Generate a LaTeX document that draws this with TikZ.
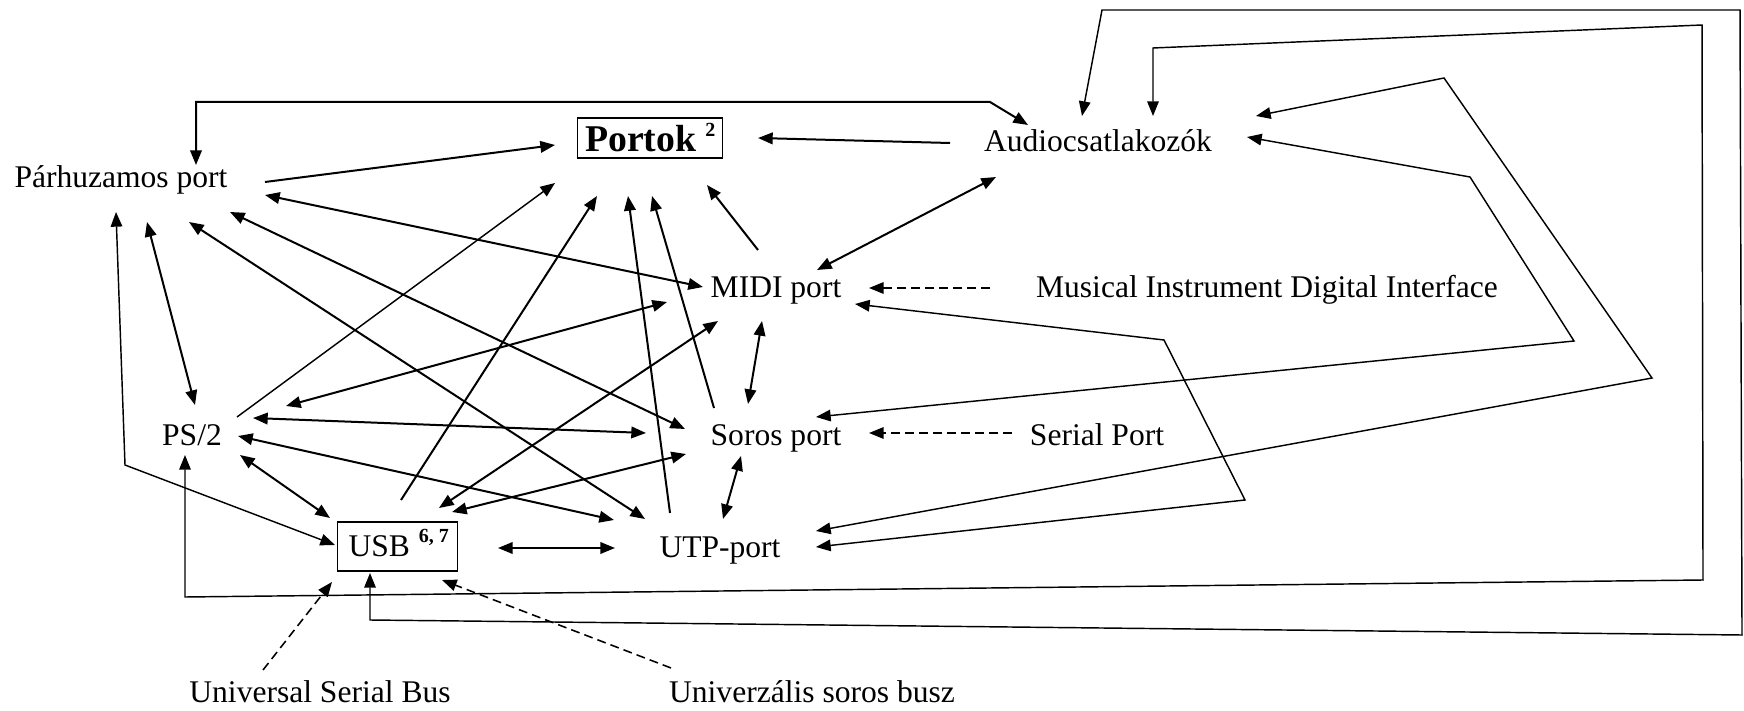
\documentclass[tikz,border=0pt]{standalone}
\usepackage{fontspec}
\setmainfont{Liberation Serif}
\usetikzlibrary{arrows.meta}
\begin{document}
\begin{tikzpicture}[
  x=0.45pt, y=-0.45pt,
  >={Triangle[length=6.6pt,width=5.2pt]},
  lbl/.style={inner sep=0pt, anchor=base, font=\fontsize{14.2}{17}\selectfont},
  frame/.style={draw, line width=0.65pt, inner sep=0pt, anchor=base west},
  wire/.style={line width=0.9pt},
  thinwire/.style={line width=0.65pt},
  hint/.style={line width=0.7pt, dash pattern=on 4pt off 2.3pt}
]
\useasboundingbox (0,0) rectangle (1744,711);

% --- labels ---
\node[frame, minimum width=65.25pt, text height=15.3pt, text depth=2.7pt,
      font=\fontsize{17}{20}\selectfont\bfseries] (por) at (577,152)
      {Portok\hspace{4pt}\raisebox{7pt}{\fontsize{9}{10}\selectfont 2}\hspace{2.25pt}};
\node[lbl] (aud)  at (1098,152) {Audiocsatlakozók};
\node[lbl] (par)  at (121,188)  {Párhuzamos port};
\node[lbl] (midi) at (776,298)  {MIDI port};
\node[lbl] (mus)  at (1267,298) {Musical Instrument Digital Interface};
\node[lbl] (ps)   at (192,446)  {PS/2};
\node[lbl] (sor)  at (776,445)  {Soros port};
\node[lbl] (ser)  at (1097,445) {Serial Port};
\node[frame, minimum width=54pt, text height=15.3pt, text depth=6.75pt,
      font=\fontsize{14.2}{17}\selectfont] (usb) at (337,556)
      {\hspace{0.9pt}USB\hspace{4pt}\raisebox{6pt}{\fontsize{9}{10}\selectfont\bfseries 6, 7}};
\node[lbl] (utp)  at (720,557)  {UTP-port};
\node[lbl] (use)  at (320,702)  {Universal Serial Bus};
\node[lbl] (ush)  at (812,702)  {Univerzális soros busz};

% --- links into the Portok box ---
\draw[wire,->] ([shift={(144,-6)}]par.base) -- ([shift={(-22,-7)}]por.base west);
\draw[thinwire,->] ([shift={(45,-29)}]ps.base) -- ([shift={(-22,31)}]por.base west);
\draw[wire,->] ([shift={(64,-56)}]usb.base west) -- ([shift={(20,44)}]por.base west);
\draw[wire,->] ([shift={(-50,-44)}]utp.base) -- ([shift={(51,44)}]por.base west);
\draw[wire,->] ([shift={(-62,-37)}]sor.base) -- ([shift={(75,44)}]por.base west);
\draw[wire,->] ([shift={(-18,-48)}]midi.base) -- ([shift={(130,33)}]por.base west);
\draw[wire,->] ([shift={(-148,-9)}]aud.base) -- ([shift={(181,-14)}]por.base west);

% --- Párhuzamos port ---
\draw[wire,<->] ([shift={(75,-23)}]par.base) |- (990,102) -- ([shift={(-70,-27)}]aud.base);
\draw[wire,<->] ([shift={(144,7)}]par.base) -- ([shift={(-73,-11)}]midi.base);
\draw[wire,<->] ([shift={(109,24)}]par.base) -- ([shift={(-91,-16)}]sor.base);
\draw[wire,<->] ([shift={(68,34)}]par.base) -- ([shift={(-75,-38)}]utp.base);
\draw[wire,<->] ([shift={(26,34)}]par.base) -- ([shift={(3,-41)}]ps.base);
\draw[thinwire,<->] ([shift={(-5,24)}]par.base) -- (125,465) -- ([shift={(-2,-11)}]usb.base west);

% --- Audiocsatlakozók / MIDI ---
\draw[wire,<->] ([shift={(-102,25)}]aud.base) -- ([shift={(41,-28)}]midi.base);
\draw[hint,->] ([shift={(-277,-10)}]mus.base) -- ([shift={(93,-10)}]midi.base);
\draw[hint,->] ([shift={(-85,-12)}]ser.base) -- ([shift={(93,-12)}]sor.base);
\draw[wire,<->] ([shift={(-14,23)}]midi.base) -- ([shift={(-28,-41)}]sor.base);
\draw[wire,<->] ([shift={(-35,11)}]sor.base) -- ([shift={(3,-38)}]utp.base);
\draw[wire,<->] ([shift={(161,-8)}]usb.base west) -- ([shift={(-105,-9)}]utp.base);

% --- PS/2 ---
\draw[wire,<->] ([shift={(94,-40)}]ps.base) -- ([shift={(-109,4)}]midi.base);
\draw[wire,<->] ([shift={(61,-28)}]ps.base) -- ([shift={(-130,-12)}]sor.base);
\draw[wire,<->] ([shift={(46,-10)}]ps.base) -- ([shift={(-106,-37)}]utp.base);
\draw[wire,<->] ([shift={(48,9)}]ps.base) -- ([shift={(-7,-38)}]usb.base west);

% --- USB ---
\draw[wire,<->] ([shift={(102,-48)}]usb.base west) -- ([shift={(-58,23)}]midi.base);
\draw[wire,<->] ([shift={(115,-44)}]usb.base west) -- ([shift={(-90,9)}]sor.base);

% --- long bent links on the right ---
\draw[thinwire,<->] ([shift={(79,6)}]midi.base) -- (1164,340) -- (1245,500) -- ([shift={(96,-10)}]utp.base);
\draw[thinwire,<->] ([shift={(40,-28)}]sor.base) -- (1574,341) -- (1470,177) -- ([shift={(149,-15)}]aud.base);
\draw[thinwire,<->] ([shift={(96,-26)}]utp.base) -- (1652,378) -- (1444,78) -- ([shift={(158,-36)}]aud.base);
\draw[thinwire,<->] ([shift={(-7,9)}]ps.base) -- (185,597) -- (1703,580) -- (1702,25) -- (1153,48) -- ([shift={(55,-36)}]aud.base);
\draw[thinwire,<->] ([shift={(33,17)}]usb.base west) -- (370,620) -- (1742,635) -- (1740,10) -- (1102,10) -- ([shift={(-16,-36)}]aud.base);

% --- name hints for USB ---
\draw[hint,->] ([shift={(-57,-32)}]use.base) -- ([shift={(-5,26)}]usb.base west);
\draw[hint,->] ([shift={(-141,-34)}]ush.base) -- ([shift={(105,24)}]usb.base west);
\end{tikzpicture}
\end{document}
